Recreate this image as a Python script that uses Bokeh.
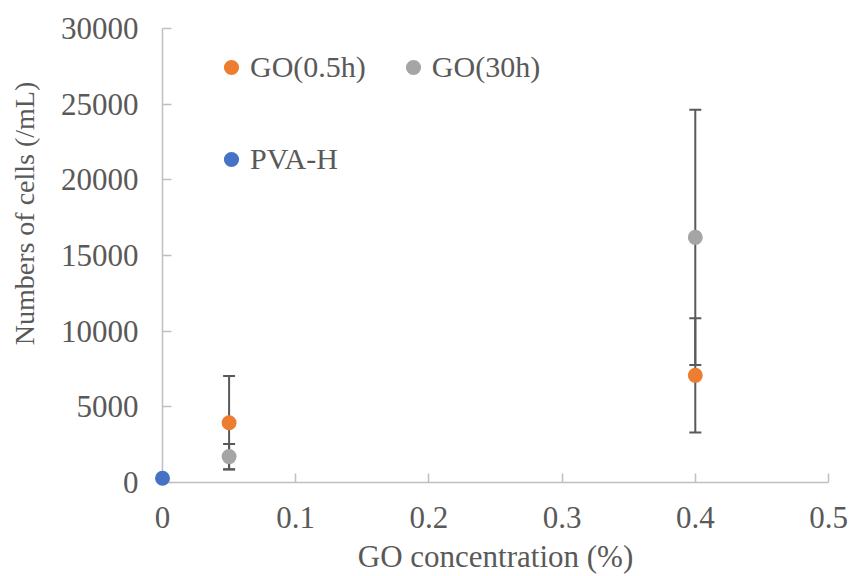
from bokeh.plotting import figure
from bokeh.models import (ColumnDataSource, Whisker, TeeHead, Legend, LegendItem,
                          FixedTicker, Range1d, NumeralTickFormatter)
from bokeh.embed import file_html
from bokeh.resources import INLINE

# ---- data ----
go05_x = [0.05, 0.4]
go05_y = [3950, 7080]
go05_err = [3090, 3780]

go30_x = [0.05, 0.4]
go30_y = [1710, 16200]
go30_err = [835, 8430]

pva_x = [0.0]
pva_y = [280]

x_ticks = [0, 0.1, 0.2, 0.3, 0.4, 0.5]
y_ticks = [0, 5000, 10000, 15000, 20000, 25000, 30000]

x_title = "GO concentration (%)"
y_title = "Numbers of cells (/mL)"

FONT = "'Liberation Serif', 'DejaVu Serif', serif"
TXT = "#595959"
AX = "#bfbfbf"

p = figure(width=851, height=576, output_backend="svg", toolbar_location=None,
           x_range=Range1d(0, 0.5), y_range=Range1d(0, 30000),
           min_border_left=162, min_border_right=23, min_border_top=28, min_border_bottom=93)
p.outline_line_color = None
p.xgrid.visible = False
p.ygrid.visible = False
p.background_fill_color = "white"
p.border_fill_color = "white"

def src(x, y, e=None):
    d = dict(x=x, y=y)
    if e is not None:
        d["upper"] = [a + b for a, b in zip(y, e)]
        d["lower"] = [a - b for a, b in zip(y, e)]
    return ColumnDataSource(d)

s05 = src(go05_x, go05_y, go05_err)
s30 = src(go30_x, go30_y, go30_err)
spva = src(pva_x, pva_y)

for s in (s05, s30):
    w = Whisker(source=s, base="x", upper="upper", lower="lower",
                line_color="#595959", line_width=2,
                upper_head=TeeHead(size=12, line_color="#595959", line_width=2),
                lower_head=TeeHead(size=12, line_color="#595959", line_width=2))
    p.add_layout(w)

r05 = p.scatter("x", "y", source=s05, size=15, color="#ED7D31", line_color=None)
r30 = p.scatter("x", "y", source=s30, size=15, color="#A5A5A5", line_color=None)
rpva = p.scatter("x", "y", source=spva, size=15, color="#4472C4", line_color=None, level="overlay")

for ax in (p.xaxis[0], p.yaxis[0]):
    ax.axis_line_color = AX
    ax.axis_line_width = 1.5
    ax.major_tick_line_color = AX
    ax.major_tick_line_width = 1.5
    ax.major_tick_in = 9
    ax.major_tick_out = 0
    ax.minor_tick_line_color = None
    ax.major_label_text_font = FONT
    ax.major_label_text_font_size = "31px"
    ax.major_label_text_color = TXT
    ax.axis_label_text_font = FONT
    ax.axis_label_text_color = TXT
    ax.axis_label_text_font_style = "normal"

p.xaxis.ticker = FixedTicker(ticks=x_ticks)
p.yaxis.ticker = FixedTicker(ticks=y_ticks)
p.xaxis.formatter = NumeralTickFormatter(format="0.[0]")
p.yaxis.formatter = NumeralTickFormatter(format="0")
p.xaxis.major_label_standoff = 24
p.yaxis.major_label_standoff = 24

p.xaxis.axis_label = x_title
p.xaxis.axis_label_text_font_size = "31px"
p.xaxis.axis_label_standoff = 8
# the reference title sits above the frame centre: lead it with no-break spaces
p.yaxis.axis_label = "\u00a0" * 12 + y_title
p.yaxis.axis_label_text_font_size = "28px"
p.yaxis.axis_label_standoff = 18

def mk_legend(items, loc, orientation):
    lg = Legend(items=items, location=loc, orientation=orientation,
                label_text_font=FONT, label_text_font_size="30px", label_text_color=TXT,
                glyph_width=38, glyph_height=38, label_standoff=0, spacing=28,
                padding=0, margin=0, border_line_color=None, background_fill_alpha=0)
    return lg

lg1 = mk_legend([LegendItem(label="GO(0.5h)", renderers=[r05]),
                 LegendItem(label="GO(30h)", renderers=[r30])], (50, 396), "horizontal")
lg2 = mk_legend([LegendItem(label="PVA-H", renderers=[rpva])], (50, 304), "vertical")
p.add_layout(lg1)
p.add_layout(lg2)

open("out.html", "w").write(file_html(p, INLINE))
